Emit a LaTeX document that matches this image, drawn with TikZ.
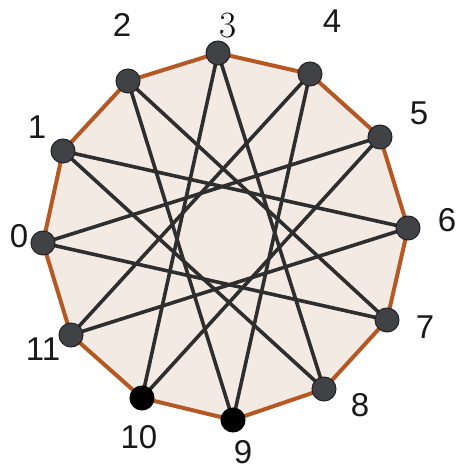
\documentclass[tikz,border=0pt]{standalone}
\usepackage{fontspec}
\setsansfont{Liberation Sans}
\usetikzlibrary{backgrounds}
\definecolor{polyfill}{RGB}{244,234,228}
\definecolor{rimcol}{RGB}{180,88,36}
\definecolor{edgecol}{RGB}{46,46,46}
\definecolor{vgray}{RGB}{64,66,70}
\definecolor{vline}{RGB}{34,34,36}
\tikzset{
  vert/.style={circle,fill=vgray,draw=vline,line width=1pt,inner sep=0pt,minimum size=24pt},
  vblack/.style={vert,fill=black,draw=black},
  lab/.style={font=\sffamily\fontsize{33}{33}\selectfont,inner sep=0pt,text=black!90},
  edge/.style={draw=edgecol,line width=3.6pt},
  rim/.style={draw=rimcol,line width=4pt,line join=round,fill=polyfill}
}
\begin{document}
\begin{tikzpicture}[x=1pt,y=1pt]
\useasboundingbox (0,0) rectangle (455,470);
\node[vert] (v0) at (43,227) {};
\node[vert] (v1) at (63,319) {};
\node[vert] (v2) at (128,389) {};
\node[vert] (v3) at (218,417) {};
\node[vert] (v4) at (310,396) {};
\node[vert] (v5) at (380,333) {};
\node[vert] (v6) at (408,242) {};
\node[vert] (v7) at (387,150) {};
\node[vert] (v8) at (324,81) {};
\node[vblack] (v9) at (233,50) {};
\node[vblack] (v10) at (142,72) {};
\node[vert] (v11) at (71,135) {};
\begin{pgfonlayer}{background}
\path[rim] (v0.center) -- (v1.center) -- (v2.center) -- (v3.center) -- (v4.center) -- (v5.center) -- (v6.center) -- (v7.center) -- (v8.center) -- (v9.center) -- (v10.center) -- (v11.center) -- cycle;
\foreach \i in {0,...,11}{
  \pgfmathtruncatemacro{\j}{mod(\i+5,12)}
  \draw[edge] (v\i.center) -- (v\j.center);
}
\end{pgfonlayer}
\node[lab] (l0) at (19,234) {0};
\node[lab] (l1) at (37,343) {1};
\node[lab] (l2) at (122,445) {2};
\node[inner sep=0pt,font=\rmfamily\fontsize{37}{37}\selectfont] (l3) at (228,444) {3};
\node[lab] (l4) at (332,449) {4};
\node[lab] (l5) at (419,357) {5};
\node[lab] (l6) at (447,250) {6};
\node[lab] (l7) at (425,143) {7};
\node[lab] (l8) at (360,65) {8};
\node[lab] (l9) at (243,18) {9};
\node[lab] (l10) at (139,33) {10};
\node[lab] (l11) at (43,121) {11};
\end{tikzpicture}
\end{document}
